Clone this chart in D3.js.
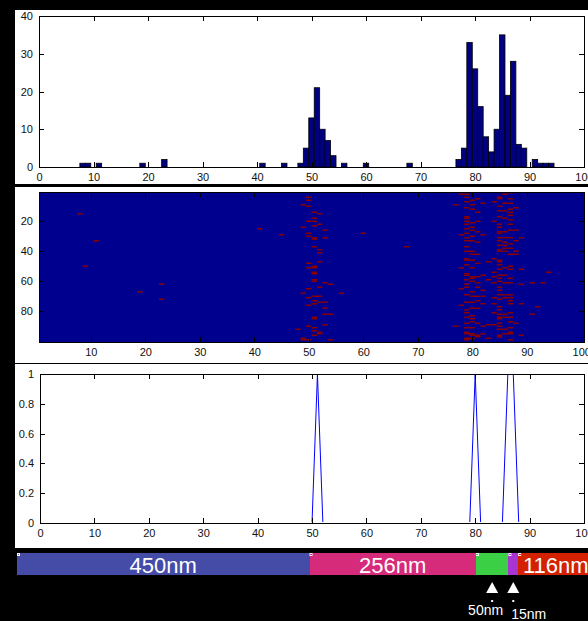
<!DOCTYPE html>
<html><head><meta charset="utf-8">
<script src="https://cdn.jsdelivr.net/npm/d3@7"></script>
<style>
html,body{margin:0;padding:0;background:#000;overflow:hidden;}
svg{display:block;}
text{font-family:"Liberation Sans",Arial,Helvetica,sans-serif;}
</style></head><body>
<svg id="c" width="588" height="621"></svg>
<script>
// ---------- DATA ----------
// histogram (column sums of the event matrix)
const histBins   = [8,9,11,19,23,41,45,48,49,50,51,52,53,54,56,60,68,77,78,79,80,81,82,83,84,85,86,87,88,89,91,92,93,94];
const histCounts = [1,1,1,1,2,1,1,1,5,13,21,10,7,3,1,1,1,2,5,33,26,16,8,4,10,35,19,28,6,5,2,1,1,1];
const histXTicks = [0,10,20,30,40,50,60,70,80,90,100];
const histYTicks = [0,10,20,30,40];

// event matrix: columns with events and the rows hit in each column
const heatCols = [8,9,11,19,23,41,45,48,49,50,51,52,53,54,56,60,68,77,78,79,80,81,82,83,84,85,86,87,88,89,91,92,93,94];
const heatRows = [
  [15],[50],[33],[67],[62,72],[25],[29],[92],
  [9,24,68,98,99],
  [4,6,10,20,28,30,48,51,65,71,76,90,99],
  [14,18,20,23,31,32,37,50,51,54,55,59,60,70,73,75,84,85,91,93,96],
  [15,22,39,41,47,64,70,74,94,95],
  [26,31,61,74,78,82,89],
  [62,82,99],
  [68],[28],[37],
  [9,90],
  [2,29,51,65,76],
  [2,4,7,11,17,18,20,22,25,28,31,33,37,40,45,46,49,55,56,59,62,64,69,74,79,81,84,88,91,94,95,98,99],
  [6,9,12,21,24,26,30,33,40,42,46,51,57,58,60,67,70,74,78,83,85,87,91,95,96,98],
  [5,14,20,27,34,42,48,57,61,64,70,73,78,88,96,97],
  [8,29,56,66,70,75,90,95],
  [47,59,89,98],
  [7,20,45,54,57,61,71,75,81,89],
  [4,5,10,13,17,22,24,27,28,31,33,36,39,40,46,47,49,52,56,58,60,64,66,69,72,77,79,82,84,85,88,90,92,96,97],
  [2,8,13,18,27,31,34,36,38,40,51,56,61,69,71,82,84,92,95],
  [1,5,8,12,14,16,19,22,26,31,35,38,42,50,52,58,61,69,71,73,75,81,84,87,91,94,95,99],
  [11,26,33,40,42,88],
  [31,52,62,75,96],
  [61,82],[77],[61],[54]
];
const heatXTicks = [10,20,30,40,50,60,70,80,90,100];
const heatYTicks = [20,40,60,80];

// detected regions (line plot)
const lineX = [0,50,51,52,79,80,81,85,86,87,88,100];
const lineY = [0,0,1,0,0,1,0,0,1,1,0,0];
const lineXTicks = [0,10,20,30,40,50,60,70,80,90,100];
const lineYTicks = [0,0.2,0.4,0.6,0.8,1];

// segment bar
const segLabels = ["450nm","256nm","50nm","15nm","116nm"];
const segLengths = [450,256,50,15,116];
const segColors = ["#444ca8","#d62a7a","#3bcf45","#a834d2","#d42200"];
const segInside = [true,true,false,false,true];

// ---------- DRAW ----------
const svg = d3.select("#c");
const fontSize = 11;

function whitePanel(y, h){
  svg.append("rect").attr("x",15).attr("y",y).attr("width",573).attr("height",h).attr("fill","#fff");
}

function frame(x, y, xt, yt, yfmt){
  const [xa,xb] = x.range();
  const ya = Math.min(...y.range()), yb = Math.max(...y.range());
  const g = svg.append("g");
  const style = s => s.attr("font-size",fontSize).attr("font-family",null)
     .call(s=>s.select(".domain").remove())
     .call(s=>s.selectAll("line").attr("stroke","#000").attr("shape-rendering","crispEdges"))
     .call(s=>s.selectAll("text").attr("fill","#111"));
  g.append("g").attr("transform",`translate(0,${yb})`)
    .call(d3.axisBottom(x).tickValues(xt).tickSize(-5).tickPadding(6).tickFormat(d3.format("d"))).call(style);
  g.append("g").attr("transform",`translate(0,${ya})`)
    .call(d3.axisTop(x).tickValues(xt).tickSize(-5).tickFormat("")).call(style);
  g.append("g").attr("transform",`translate(${xa},0)`)
    .call(d3.axisLeft(y).tickValues(yt).tickSize(-5).tickPadding(6).tickFormat(yfmt)).call(style);
  g.append("g").attr("transform",`translate(${xb},0)`)
    .call(d3.axisRight(y).tickValues(yt).tickSize(-5).tickFormat("")).call(style);
  g.append("rect").attr("x",xa+0.5).attr("y",ya+0.5).attr("width",xb-xa).attr("height",yb-ya)
    .attr("fill","none").attr("stroke","#000").attr("stroke-width",1).attr("shape-rendering","crispEdges");
}

// Panel 1: histogram
whitePanel(10,174);
const x1 = d3.scaleLinear().domain([0,100]).range([39,584]);
const y1 = d3.scaleLinear().domain([0,40]).range([167,16]);
svg.append("g").selectAll("rect").data(histBins).join("rect")
  .attr("x",(d)=>x1(d-0.5)).attr("width",(d)=>x1(d+0.5)-x1(d-0.5))
  .attr("y",(d,i)=>y1(histCounts[i])).attr("height",(d,i)=>y1(0)-y1(histCounts[i]))
  .attr("fill","#000080").attr("stroke","#000").attr("stroke-width",0.8);
frame(x1,y1,histXTicks,histYTicks,d3.format("d"));

// Panel 2: heatmap
whitePanel(187,176);
const x2 = d3.scaleLinear().domain([0.5,100.5]).range([39,584]);
const y2 = d3.scaleLinear().domain([0.5,100.5]).range([192,342]);
svg.append("rect").attr("x",x2(0.5)).attr("y",y2(0.5)).attr("width",x2(100.5)-x2(0.5))
  .attr("height",y2(100.5)-y2(0.5)).attr("fill","#00008f");
const cells = [];
heatCols.forEach((c,i)=>heatRows[i].forEach(r=>cells.push({c,r})));
svg.append("g").selectAll("rect").data(cells).join("rect")
  .attr("x",d=>x2(d.c-0.5)).attr("width",d=>x2(d.c+0.5)-x2(d.c-0.5))
  .attr("y",d=>y2(d.r-0.5)).attr("height",d=>y2(d.r+0.5)-y2(d.r-0.5))
  .attr("fill","#8a0000");
frame(x2,y2,heatXTicks,heatYTicks,d3.format("d"));

// Panel 3: line plot
whitePanel(364,184);
const x3 = d3.scaleLinear().domain([0,100]).range([40,584]);
const y3 = d3.scaleLinear().domain([0,1]).range([523,374]);
svg.append("clipPath").attr("id","clip3").append("rect")
  .attr("x",x3(0)).attr("y",y3(1)+1).attr("width",x3(100)-x3(0)).attr("height",y3(0)-y3(1)-2);
svg.append("path").datum(lineX.map((v,i)=>[v,lineY[i]]))
  .attr("clip-path","url(#clip3)")
  .attr("d",d3.line().x(d=>x3(d[0])).y(d=>y3(d[1])))
  .attr("fill","none").attr("stroke","#0000ff").attr("stroke-width",1);
frame(x3,y3,lineXTicks,lineYTicks,d=>String(+d.toFixed(1)));

// Segment bar
const total = d3.sum(segLengths);
const xs = d3.scaleLinear().domain([0,total]).range([17,17+total*0.65]);
const starts = d3.cumsum([0,...segLengths]);
const segs = segLengths.map((l,i)=>({l,s:starts[i],e:starts[i]+l,label:segLabels[i],color:segColors[i],inside:segInside[i]}));
const barTop = 553, barH = 22;
const sg = svg.append("g");
sg.selectAll("rect.seg").data(segs).join("rect").attr("class","seg")
  .attr("x",d=>xs(d.s)).attr("width",d=>xs(d.e)-xs(d.s)).attr("y",barTop).attr("height",barH)
  .attr("fill",d=>d.color).attr("shape-rendering","crispEdges");
sg.selectAll("rect.mk").data(segs).join("rect").attr("class","mk")
  .attr("x",d=>xs(d.s)+0.5).attr("y",barTop+0.5).attr("width",2).attr("height",2)
  .attr("fill","none").attr("stroke","#fff").attr("stroke-width",1);
sg.selectAll("text.in").data(segs.filter(d=>d.inside)).join("text").attr("class","in")
  .attr("x",d=>(xs(d.s)+xs(d.e))/2).attr("y",barTop+19.5).attr("text-anchor","middle")
  .attr("fill","#fff").attr("font-size",22).text(d=>d.label);
const outs = segs.filter(d=>!d.inside);
outs.forEach((d,i)=>{
  const cx = (xs(d.s)+xs(d.e))/2;
  sg.append("path").attr("d",`M${cx-6},593 L${cx+6},593 L${cx},582 Z`).attr("fill","#fff");
  sg.append("rect").attr("x",cx-1).attr("y",600).attr("width",2).attr("height",2).attr("fill","#fff");
  sg.append("text").attr("x", i===0 ? cx+11 : cx-2).attr("y", i===0 ? 615 : 618.5)
    .attr("text-anchor", i===0 ? "end" : "start").attr("fill","#fff").attr("font-size",14).text(d.label);
});
</script>
</body></html>
